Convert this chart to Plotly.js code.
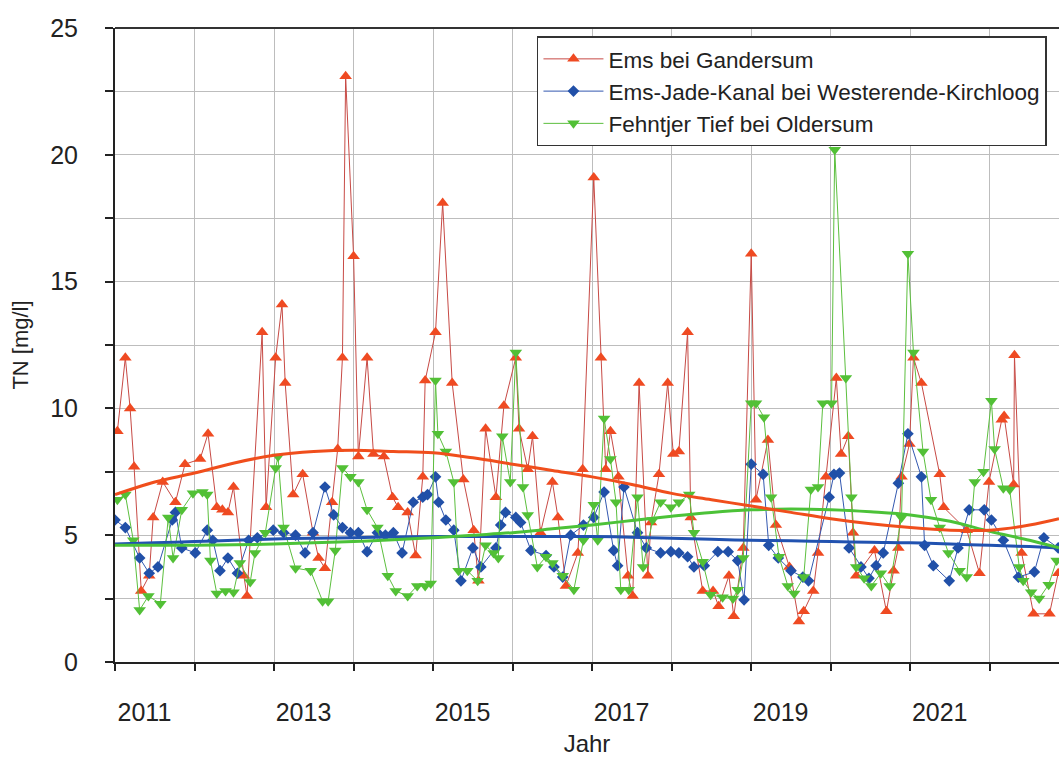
<!DOCTYPE html>
<html>
<head>
<meta charset="utf-8">
<script src="https://cdn.plot.ly/plotly-3.0.1.min.js"></script>
<style>html,body{margin:0;padding:0;background:#fff;}#chart{width:1059px;height:758px;}</style>
</head>
<body>
<div id="chart"></div>
<script>
// Series names
const seriesNames = ["Ems bei Gandersum", "Ems-Jade-Kanal bei Westerende-Kirchloog", "Fehntjer Tief bei Oldersum"];

// Ems bei Gandersum (decimal year, TN mg/l)
const emsX = [2011.03,2011.13,2011.19,2011.24,2011.33,2011.43,2011.48,2011.60,2011.76,2011.88,2012.07,2012.17,2012.28,2012.35,2012.42,2012.49,2012.62,2012.66,2012.85,2012.90,2013.02,2013.10,2013.14,2013.24,2013.36,2013.49,2013.56,2013.64,2013.73,2013.80,2013.86,2013.90,2014.00,2014.06,2014.17,2014.25,2014.38,2014.49,2014.56,2014.68,2014.78,2014.87,2014.90,2015.03,2015.12,2015.24,2015.38,2015.51,2015.57,2015.66,2015.79,2015.89,2016.04,2016.08,2016.19,2016.25,2016.35,2016.50,2016.57,2016.67,2016.82,2016.88,2017.02,2017.11,2017.17,2017.23,2017.33,2017.45,2017.51,2017.59,2017.70,2017.74,2017.84,2017.95,2018.02,2018.09,2018.20,2018.24,2018.39,2018.52,2018.59,2018.72,2018.78,2018.90,2019.00,2019.06,2019.21,2019.31,2019.48,2019.60,2019.66,2019.78,2019.84,2019.94,2020.07,2020.13,2020.22,2020.28,2020.32,2020.55,2020.70,2020.79,2020.85,2020.89,2020.99,2021.04,2021.14,2021.37,2021.42,2021.71,2021.87,2021.99,2022.15,2022.18,2022.30,2022.31,2022.40,2022.55,2022.75,2022.86];
const emsY = [9.1,12.0,10.0,7.7,2.8,3.4,5.7,7.1,6.3,7.8,8.0,9.0,6.1,6.0,5.9,6.9,3.4,2.6,13.0,6.1,12.0,14.1,11.0,6.6,7.4,5.1,4.1,3.7,6.3,8.4,12.0,23.1,16.0,8.1,12.0,8.2,8.1,6.5,6.1,5.9,4.2,7.3,11.1,13.0,18.1,11.0,7.2,5.2,3.2,9.2,6.5,10.1,12.0,9.2,7.6,8.9,5.1,7.1,5.7,3.0,4.3,7.6,19.1,12.0,7.6,9.1,7.3,3.4,2.6,11.0,3.4,5.5,7.4,11.0,8.2,8.3,13.0,5.7,2.8,2.8,2.2,3.4,1.8,4.5,16.1,6.4,8.75,5.4,3.75,1.6,2.0,2.8,4.3,7.3,11.2,8.2,8.9,5.1,3.4,4.4,2.0,3.6,4.5,7.3,8.6,12.0,11.0,7.4,6.1,5.2,3.5,7.1,9.55,9.7,7.0,12.1,4.3,1.9,1.9,3.5];

// Ems-Jade-Kanal bei Westerende-Kirchloog
const ejkX = [2011.00,2011.13,2011.31,2011.43,2011.54,2011.72,2011.76,2011.84,2012.01,2012.16,2012.23,2012.32,2012.42,2012.54,2012.68,2012.79,2012.99,2013.12,2013.27,2013.39,2013.49,2013.64,2013.75,2013.86,2013.96,2014.06,2014.17,2014.30,2014.40,2014.50,2014.61,2014.75,2014.87,2014.93,2015.03,2015.07,2015.16,2015.26,2015.35,2015.50,2015.60,2015.79,2015.85,2015.91,2016.04,2016.10,2016.23,2016.42,2016.52,2016.63,2016.73,2016.89,2017.02,2017.15,2017.27,2017.32,2017.40,2017.57,2017.68,2017.86,2017.99,2018.09,2018.20,2018.28,2018.41,2018.58,2018.71,2018.83,2018.91,2019.00,2019.15,2019.22,2019.34,2019.50,2019.65,2019.72,2019.98,2020.04,2020.11,2020.23,2020.38,2020.48,2020.57,2020.66,2020.85,2020.97,2021.14,2021.18,2021.29,2021.49,2021.60,2021.74,2021.93,2022.02,2022.17,2022.36,2022.56,2022.68,2022.86];
const ejkY = [5.6,5.3,4.1,3.5,3.75,5.6,5.9,4.5,4.3,5.2,4.8,3.6,4.1,3.5,4.8,4.9,5.2,5.1,5.0,4.3,5.1,6.9,5.8,5.3,5.1,5.1,4.35,5.1,5.0,5.1,4.3,6.3,6.5,6.6,7.3,6.3,5.6,5.2,3.2,4.5,3.75,4.5,5.4,5.9,5.7,5.5,4.4,4.2,3.75,3.35,5.0,5.4,5.7,6.7,4.4,3.8,6.9,5.1,4.5,4.3,4.35,4.3,4.15,3.75,3.8,4.35,4.35,4.0,2.45,7.8,7.4,4.6,4.1,3.6,3.35,3.2,6.5,7.4,7.45,4.5,3.75,3.3,3.8,4.3,7.05,9.0,7.3,4.6,3.8,3.2,4.5,6.0,6.0,5.6,4.8,3.35,3.55,4.9,4.5];

// Fehntjer Tief bei Oldersum
const ftX = [2011.03,2011.13,2011.23,2011.31,2011.42,2011.57,2011.67,2011.73,2011.84,2011.98,2012.10,2012.16,2012.20,2012.28,2012.39,2012.49,2012.57,2012.70,2012.76,2012.89,2013.02,2013.05,2013.12,2013.27,2013.46,2013.61,2013.68,2013.77,2013.86,2013.96,2014.06,2014.17,2014.30,2014.43,2014.53,2014.68,2014.80,2014.90,2014.97,2015.03,2015.06,2015.16,2015.26,2015.32,2015.43,2015.56,2015.66,2015.76,2015.82,2015.87,2015.97,2016.04,2016.13,2016.19,2016.31,2016.42,2016.50,2016.63,2016.77,2016.89,2017.02,2017.07,2017.15,2017.23,2017.30,2017.36,2017.46,2017.57,2017.64,2017.76,2017.86,2017.99,2018.09,2018.22,2018.28,2018.39,2018.49,2018.64,2018.77,2018.83,2018.90,2019.00,2019.06,2019.16,2019.25,2019.35,2019.46,2019.54,2019.66,2019.75,2019.84,2019.90,2020.01,2020.05,2020.19,2020.26,2020.32,2020.42,2020.51,2020.63,2020.74,2020.89,2020.97,2021.04,2021.16,2021.26,2021.37,2021.48,2021.62,2021.71,2021.81,2021.92,2022.02,2022.06,2022.17,2022.25,2022.37,2022.42,2022.52,2022.62,2022.74,2022.84];
const ftY = [6.4,6.6,4.8,2.05,2.6,2.3,5.7,4.1,6.0,6.65,6.7,6.6,4.0,2.7,2.8,2.75,3.9,3.15,4.3,5.1,7.65,8.1,5.3,3.7,3.6,2.4,2.4,4.4,7.65,7.3,7.1,6.0,5.3,3.4,2.8,2.6,3.0,3.0,3.1,11.1,9.0,8.3,7.1,3.6,3.6,3.2,4.6,4.3,4.1,8.9,7.1,12.2,6.9,5.8,3.75,4.15,3.9,3.4,2.85,4.8,6.2,4.8,9.6,8.0,6.3,2.85,2.85,6.5,3.75,5.6,6.3,6.1,6.3,6.6,5.1,3.95,2.65,2.55,2.5,2.85,4.1,10.2,10.2,9.65,6.5,4.15,3.0,2.7,3.35,6.8,6.9,10.2,10.2,20.2,11.2,6.5,3.75,3.3,3.0,3.5,3.0,5.7,16.1,12.2,8.3,6.4,5.3,4.3,3.6,3.35,7.1,7.5,10.3,8.4,6.85,6.8,3.75,3.2,2.75,2.5,3.05,4.0];

// Smoothed trend curves
const trendX = [2011.0,2011.5,2012.0,2012.5,2013.0,2013.5,2014.0,2014.5,2015.0,2015.5,2016.0,2016.5,2017.0,2017.5,2018.0,2018.5,2019.0,2019.5,2020.0,2020.5,2021.0,2021.5,2022.0,2022.5,2022.87];
const emsTrend = [6.6,7.1,7.45,7.85,8.15,8.3,8.35,8.3,8.25,8.05,7.8,7.55,7.3,7.0,6.65,6.4,6.15,5.9,5.65,5.45,5.3,5.2,5.2,5.4,5.65];
const ejkTrend = [4.65,4.7,4.75,4.8,4.85,4.88,4.9,4.93,4.95,4.95,4.95,4.95,4.95,4.92,4.88,4.84,4.8,4.78,4.75,4.72,4.7,4.65,4.6,4.55,4.5];
const ftTrend = [4.6,4.6,4.6,4.62,4.65,4.7,4.75,4.82,4.9,5.0,5.1,5.25,5.4,5.58,5.75,5.9,6.0,6.03,6.0,5.92,5.8,5.55,5.15,4.8,4.5];

// Axis ticks
const yearLabels = ["2011","2013","2015","2017","2019","2021"];
const yearLabelPos = [2011.37,2013.37,2015.37,2017.37,2019.37,2021.37];

const cRed = "#ef4a22", cRedLine = "#c74a45";
const cBlue = "#2150a8", cBlueLine = "#3358b0";
const cGreen = "#52c036", cGreenLine = "#5cbf3e";

const traces = [
  {x: emsX, y: emsY, name: seriesNames[0], type: "scatter", mode: "lines+markers",
   line: {color: cRedLine, width: 1}, marker: {symbol: "triangle-up", size: 11, color: cRed}},
  {x: ejkX, y: ejkY, name: seriesNames[1], type: "scatter", mode: "lines+markers",
   line: {color: cBlueLine, width: 1}, marker: {symbol: "diamond", size: 9, color: cBlue}},
  {x: ftX, y: ftY, name: seriesNames[2], type: "scatter", mode: "lines+markers",
   line: {color: cGreenLine, width: 1}, marker: {symbol: "triangle-down", size: 11, color: cGreen}},
  {x: trendX, y: ejkTrend, type: "scatter", mode: "lines", showlegend: false, hoverinfo: "skip",
   line: {color: "#2152b0", width: 3, shape: "spline"}},
  {x: trendX, y: ftTrend, type: "scatter", mode: "lines", showlegend: false, hoverinfo: "skip",
   line: {color: "#4cc238", width: 3, shape: "spline"}},
  {x: trendX, y: emsTrend, type: "scatter", mode: "lines", showlegend: false, hoverinfo: "skip",
   line: {color: "#f04e1c", width: 3, shape: "spline"}}
];

const layout = {
  width: 1059, height: 758,
  margin: {l: 115, r: 0, t: 28, b: 96},
  paper_bgcolor: "#ffffff", plot_bgcolor: "#ffffff",
  font: {family: "Liberation Sans, Arial, sans-serif", color: "#222"},
  showlegend: true,
  legend: {x: 0.447, y: 0.987, xanchor: "left", yanchor: "top",
    bgcolor: "#ffffff", bordercolor: "#333", borderwidth: 1.5,
    font: {size: 22.5, color: "#222"}, itemwidth: 60, tracegroupgap: 0},
  xaxis: {
    range: [2011, 2022.87], showgrid: false, zeroline: false,
    tickmode: "array", tickvals: yearLabelPos, ticktext: yearLabels,
    ticks: "", ticklabelstandoff: 27,
    tickfont: {size: 25, color: "#222"},
    showline: true, linecolor: "#222", linewidth: 2,
    minor: {tick0: 2011, dtick: 1, showgrid: true, gridcolor: "#bdbdbd", gridwidth: 1,
            ticks: "outside", ticklen: 7, tickcolor: "#222", tickwidth: 2},
    title: {text: "Jahr", font: {size: 24, color: "#222"}, standoff: 10}
  },
  yaxis: {
    range: [0, 25], dtick: 5, tick0: 0, showgrid: true, gridcolor: "#bdbdbd", gridwidth: 1,
    zeroline: false, ticks: "outside", ticklen: 8, tickcolor: "#222", tickwidth: 2,
    ticklabelstandoff: 22,
    tickfont: {size: 25, color: "#222"},
    showline: true, linecolor: "#222", linewidth: 2,
    minor: {dtick: 2.5, showgrid: true, gridcolor: "#bdbdbd", gridwidth: 1,
            ticks: "outside", ticklen: 8, tickcolor: "#222", tickwidth: 2},
    title: {text: "TN [mg/l]", font: {size: 22, color: "#222"}, standoff: 15}
  },
  shapes: [{type: "line", xref: "paper", yref: "paper", x0: 0, x1: 1, y0: 1, y1: 1,
            line: {color: "#333", width: 2}}]
};

Plotly.newPlot("chart", traces, layout, {staticPlot: true, displayModeBar: false});
</script>
</body>
</html>
